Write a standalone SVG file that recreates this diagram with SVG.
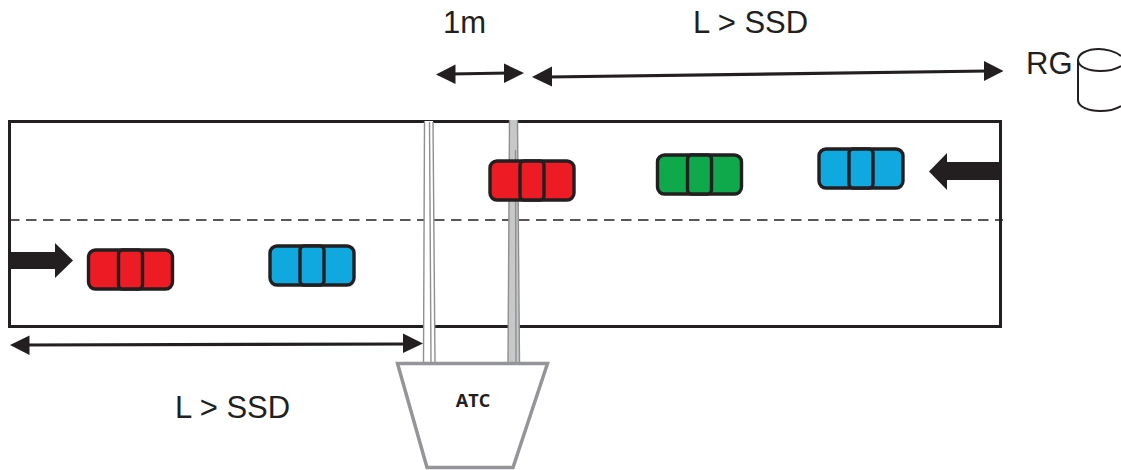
<svg xmlns="http://www.w3.org/2000/svg" width="1121" height="470" viewBox="0 0 1121 470">
<style>
.lbl{font-family:"Liberation Sans",Arial,sans-serif;font-size:31px;fill:#231f20}
.body{stroke:#231f20;stroke-width:3.4}
.red{fill:#ed1c24}.blue{fill:#0fa9e0}.green{fill:#0fa94c}
.ln{fill:none;stroke:#231f20;stroke-width:3}
.arr{fill:none;stroke:#231f20;stroke-width:3.2}
.head{fill:#231f20;stroke:none}
.edge{fill:none;stroke:#8f8f8f;stroke-width:1.4}
</style>
<defs>
<g id="car">
<rect class="body" x="-42" y="-19.5" width="84" height="39" rx="7"/>
<rect class="body" x="-12" y="-19.5" width="24" height="39" rx="4"/>
</g>
</defs>
<g id="road">
<rect class="ln" x="9.5" y="121.5" width="991" height="205"/>
<line x1="9" y1="220" x2="1003" y2="220" stroke="#231f20" stroke-width="1.6" stroke-dasharray="10.5 6.5"/>
</g>
<g id="pole-white">
<path d="M424.5 121 H433 L435 362 H423.5 Z" fill="#fff"/>
<path class="edge" d="M424.5 122 L423.5 362 M433 122 L435 362 M429.500 122 L431 362"/>
</g>
<g id="pole-gray">
<path d="M509.500 120 H517.500 L519.500 362 H508 Z" fill="#c6c8ca"/>
<path class="edge" d="M509.500 120 L508 362 M517.500 120 L519.500 362 M515.500 150 L516 362"/>
</g>
<g id="car-red-1" class="red"><use href="#car" x="130.500" y="269.500"/></g>
<g id="car-blue-1" class="blue"><use href="#car" x="312" y="265.500"/></g>
<g id="car-red-2" class="red"><use href="#car" x="532" y="180.500"/></g>
<g id="car-green" class="green"><use href="#car" x="699.500" y="174.500"/></g>
<g id="car-blue-2" class="blue"><use href="#car" x="861" y="168.500"/></g>
<g id="connectors">
<path class="head" d="M10 252 H55 V243 L73 260.500 L55 278 V269 H10 Z"/>
<path class="head" d="M999 162 H947 V153 L929 171.500 L947 190 V180 H999 Z"/>
<line class="arr" x1="450" y1="74" x2="510" y2="73"/>
<path class="head" d="M436 74.500 L455.500 64.500 V84 Z"/>
<path class="head" d="M524 73 L504 63.500 V83 Z"/>
<line class="arr" x1="548" y1="77" x2="988" y2="71"/>
<path class="head" d="M532 77 L552 66.500 V86.500 Z"/>
<path class="head" d="M1003.500 71 L984 61 V81 Z"/>
<line class="arr" x1="24" y1="345" x2="408" y2="344"/>
<path class="head" d="M10 345 L29.500 335.500 V355 Z"/>
<path class="head" d="M423 343.500 L403 333.500 V353 Z"/>
</g>
<g id="rg">
<text class="lbl" x="1026" y="74">RG</text>
<path d="M1121 38 C1112 50 1085 50 1080 58 C1075 66 1087 71 1100 71 C1110 71 1117 70 1121 68 M1078 59 V101 C1078 109 1090 112 1102 112 C1110 112 1117 111 1121 108" fill="none" stroke="#231f20" stroke-width="2" opacity="0"/>
<path d="M1121 56 C1115 51 1105 49 1099 49 C1087 49 1078 54 1078 60 C1078 67 1089 71 1100 71 C1108 71 1116 69 1121 66 M1078 60 V100 C1078 107 1089 111 1100 111 C1108 111 1116 109 1121 106" fill="none" stroke="#231f20" stroke-width="2"/>
</g>
<g id="atc">
<path d="M397.500 363.500 H547.500 L513 467.500 H427 Z" fill="#fff" stroke="#939598" stroke-width="3.500"/>
<text x="473" y="407" text-anchor="middle" font-family="Open Sans,Liberation Sans,sans-serif" font-weight="700" font-size="18" fill="#231f20">ATC</text>
</g>
<g id="labels">
<text class="lbl" x="443" y="33">1m</text>
<text class="lbl" x="693" y="33">L &gt; SSD</text>
<text class="lbl" x="175" y="418">L &gt; SSD</text>
</g>
</svg>
